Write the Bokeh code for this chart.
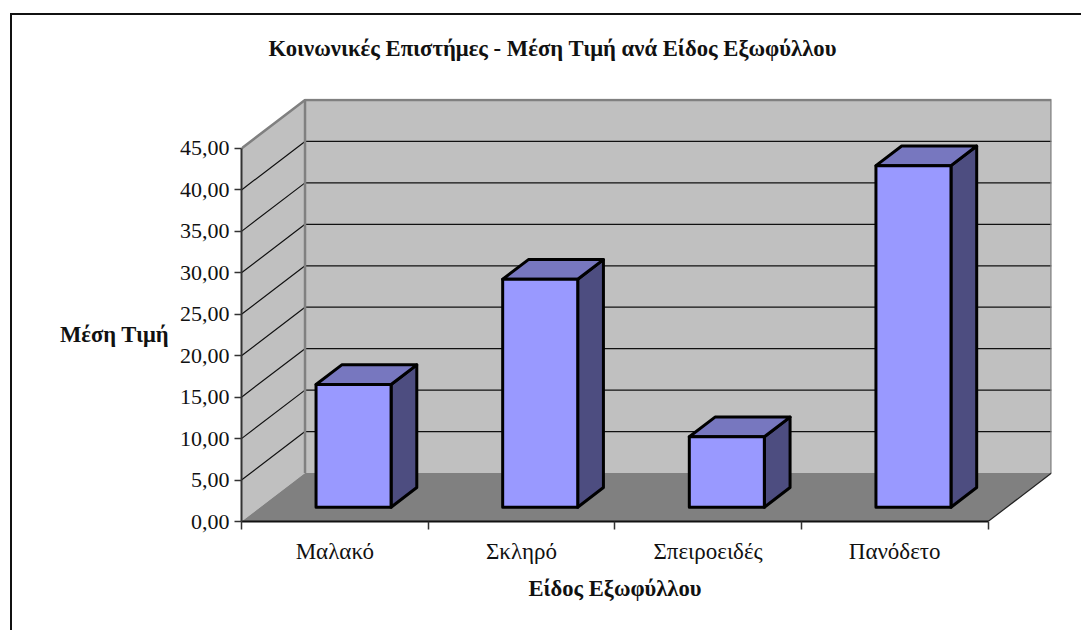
from bokeh.plotting import figure
from bokeh.models import FixedTicker, Range1d, Title, Label
from bokeh.embed import file_html
from bokeh.resources import INLINE

categories = ["Μαλακό", "Σκληρό", "Σπειροειδές", "Πανόδετο"]
values = [14.8, 27.5, 8.5, 41.2]
y_ticks = [0, 5, 10, 15, 20, 25, 30, 35, 40, 45]
y_labels = ["0,00", "5,00", "10,00", "15,00", "20,00", "25,00", "30,00", "35,00", "40,00", "45,00"]

TITLE = "Κοινωνικές Επιστήμες - Μέση Τιμή ανά Είδος Εξωφύλλου"
Y_TITLE = "Μέση Τιμή"
X_TITLE = "Είδος Εξωφύλλου"
FONT = "Liberation Serif"

# oblique projection of the chart's depth, in axis units
DX, DY = 0.3403, 5.85
BAR_W = 0.402
F0, F1 = 0.295, 0.70
XMAX, YMAX = 4.0, 45.0


def px(x, d):
    return x + DX * d


def py(y, d):
    return y + DY * d


p = figure(width=1071, height=617, output_backend="svg", toolbar_location=None,
           x_range=Range1d(0, 4.34), y_range=Range1d(0, 51.03),
           min_border_left=229, min_border_right=32, min_border_top=83, min_border_bottom=111,
           outline_line_color=None, margin=(15, 0, 0, 12))
p.styles = {"box-shadow": "-2px -2px 0 #111111"}
p.grid.visible = False

wall = "#C0C0C0"
edge = "#808080"
# side wall, back wall, floor
p.patch([0, px(0, 1), px(0, 1), 0], [0, py(0, 1), py(YMAX, 1), YMAX],
        fill_color=wall, line_color=None)
p.patch([px(0, 1), px(XMAX, 1), px(XMAX, 1), px(0, 1)], [py(0, 1), py(0, 1), py(YMAX, 1), py(YMAX, 1)],
        fill_color=wall, line_color=None)
p.patch([0, XMAX, px(XMAX, 1), px(0, 1)], [0, 0, py(0, 1), py(0, 1)],
        fill_color=edge, line_color=None)

# grid lines run along the side wall and the back wall
gx, gy = [], []
for t in y_ticks[1:-1]:
    gx.append([0, px(0, 1), px(XMAX, 1)])
    gy.append([t, py(t, 1), py(t, 1)])
p.multi_line(gx, gy, line_color="#111111", line_width=1.2)

# wall edges
p.line([0, px(0, 1), px(XMAX, 1), px(XMAX, 1)], [YMAX, py(YMAX, 1), py(YMAX, 1), py(0, 1)],
       line_color=edge, line_width=2.5)
p.line([px(0, 1), px(0, 1)], [py(0, 1), py(YMAX, 1)], line_color=edge, line_width=2.5)
p.line([XMAX, px(XMAX, 1)], [0, py(0, 1)], line_color="#222222", line_width=1.2)

# bars
for i, v in enumerate(values):
    x0 = i + 0.5 - BAR_W / 2
    x1 = i + 0.5 + BAR_W / 2
    fx0, fx1 = px(x0, F0), px(x1, F0)
    bx0, bx1 = px(x0, F1), px(x1, F1)
    fb, ft = py(0, F0), py(v, F0)
    bb, bt = py(0, F1), py(v, F1)
    style = dict(line_color="black", line_width=3, line_join="round")
    p.patch([fx1, bx1, bx1, fx1], [fb, bb, bt, ft], fill_color="#4D4D80", **style)
    p.patch([fx0, fx1, bx1, bx0], [ft, ft, bt, bt], fill_color="#7777BF", **style)
    p.patch([fx0, fx1, fx1, fx0], [fb, fb, ft, ft], fill_color="#9999FF", **style)

ya = p.yaxis[0]
ya.ticker = FixedTicker(ticks=y_ticks)
ya.major_label_overrides = {t: s for t, s in zip(y_ticks, y_labels)}
ya.bounds = (0, YMAX)
ya.minor_tick_line_color = None
ya.major_tick_in = 0
ya.major_tick_out = 7
ya.major_tick_line_color = "#333333"
ya.major_tick_line_width = 1.5
ya.axis_line_color = "#333333"
ya.axis_line_width = 2
ya.major_label_text_font = FONT
ya.major_label_text_font_size = "22px"
ya.major_label_text_color = "#111111"
ya.major_label_standoff = 5

xa = p.xaxis[0]
xa.ticker = FixedTicker(ticks=[i + 0.5 for i in range(len(categories))],
                        minor_ticks=list(range(len(categories) + 1)))
xa.major_label_overrides = {i + 0.5: c for i, c in enumerate(categories)}
xa.bounds = (0, XMAX)
xa.major_tick_line_color = None
xa.major_tick_in = 0
xa.major_tick_out = 0
xa.minor_tick_in = 0
xa.minor_tick_out = 8
xa.minor_tick_line_color = "#333333"
xa.minor_tick_line_width = 1.5
xa.axis_line_color = "#111111"
xa.axis_line_width = 2
xa.major_label_text_font = FONT
xa.major_label_text_font_size = "23px"
xa.major_label_text_color = "#111111"
xa.major_label_standoff = 9

# axis titles sit at the middle of each axis, not of the whole frame
p.add_layout(Label(x=-7.5, y=187, text=Y_TITLE, x_units="screen", y_units="screen",
                   text_font=FONT, text_font_size="22.6px", text_font_style="bold",
                   text_color="#111111", text_baseline="middle"), "left")
p.add_layout(Title(text=X_TITLE, align="left", offset=287, standoff=15, text_font=FONT,
                   text_font_size="22.6px", text_font_style="bold", text_color="#111111"), "below")

# spacer between the frame and the chart title
p.add_layout(Title(text=" ", standoff=0, text_font=FONT, text_font_size="12px"), "above")
p.title = Title(text=TITLE, align="left", offset=27, text_font=FONT, text_font_size="22.7px",
                text_font_style="bold", text_color="#111111", standoff=39, vertical_align="top")

open("out.html", "w").write(file_html(p, INLINE))
